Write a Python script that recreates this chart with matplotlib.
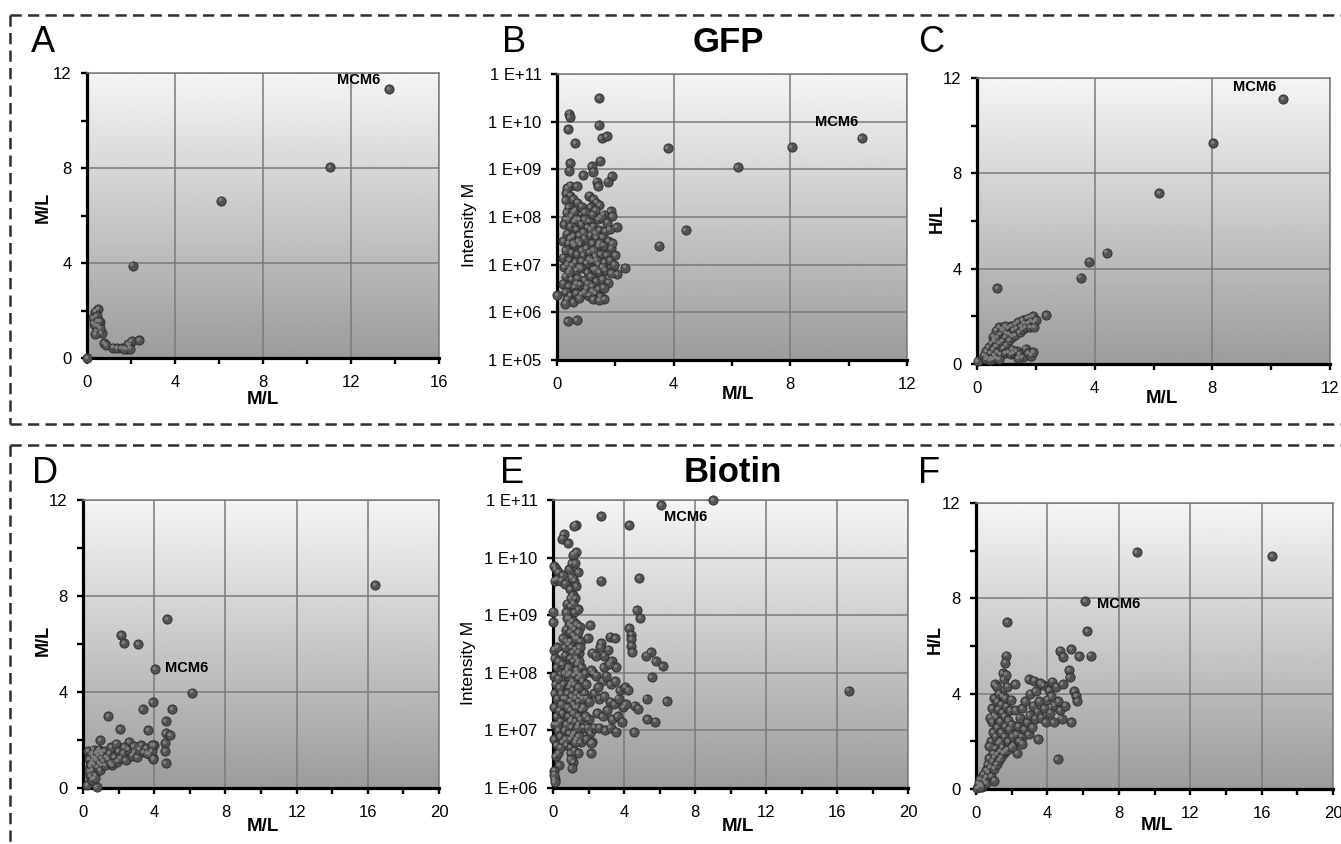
import numpy as np
import matplotlib
matplotlib.use('Agg')
import matplotlib.pyplot as plt
from matplotlib.ticker import MultipleLocator, FixedLocator, FuncFormatter, NullLocator
from matplotlib.lines import Line2D
from matplotlib.transforms import ScaledTranslation

plt.rcParams['font.family'] = ['Liberation Sans', 'DejaVu Sans']

# ---- data ----
# A: GFP, M/L vs M/L
a_pts = [(0.0, 0.0), (0.51, 2.06), (0.36, 1.95), (0.29, 1.68), (0.44, 1.75), (0.59, 1.53),
         (0.36, 1.39), (0.51, 1.33), (0.44, 1.12), (0.67, 1.05), (0.36, 1.0), (0.59, 1.25),
         (0.30, 1.45), (0.48, 1.55), (0.77, 0.62), (0.86, 0.55), (1.2, 0.43), (1.38, 0.41),
         (1.57, 0.41), (1.8, 0.38), (1.92, 0.52), (2.03, 0.72), (1.88, 0.58), (2.38, 0.76),
         (1.7, 0.40), (1.95, 0.40), (2.07, 3.89), (6.09, 6.62), (11.06, 8.03), (13.74, 11.31)]

# B: GFP, M/L vs log10(Intensity M)
b_pts = [(1.45, 10.5), (0.42, 10.17), (0.43, 10.10), (0.38, 9.85), (1.43, 9.93), (1.53, 9.66),
         (1.70, 9.69), (0.62, 9.55), (3.79, 9.44), (8.05, 9.47), (10.45, 9.66), (6.19, 9.04),
         (1.47, 9.18), (0.45, 9.13), (0.41, 8.97), (0.9, 8.88), (1.19, 9.06), (1.25, 8.95),
         (1.87, 8.86), (1.74, 8.74), (1.36, 8.74), (1.42, 8.64), (0.45, 8.66), (0.67, 8.64),
         (0.31, 8.50), (4.41, 7.73), (3.5, 7.40), (2.34, 6.94), (2.05, 7.78), (0.0, 6.36),
         (0.37, 5.82), (0.67, 5.83), (1.84, 8.13), (2.07, 6.80),
         (0.35, 8.60), (0.45, 8.45), (0.30, 8.35), (0.55, 8.38), (0.70, 8.30), (0.40, 8.20),
         (0.62, 8.15), (0.85, 8.22), (1.10, 8.45), (1.25, 8.38), (1.35, 8.30), (1.15, 8.20),
         (1.45, 8.25), (1.30, 8.15), (1.60, 8.05), (1.90, 8.02), (1.20, 8.05), (0.95, 8.10),
         (0.50, 8.02), (0.75, 7.95), (0.30, 7.95), (1.40, 7.95), (1.10, 7.90),
         (0.25, 7.85), (0.45, 7.80), (0.65, 7.75), (0.85, 7.85), (1.05, 7.78), (1.25, 7.80),
         (1.45, 7.72), (1.65, 7.70), (1.80, 7.75), (0.35, 7.65), (0.55, 7.60), (0.75, 7.62),
         (0.95, 7.55), (1.15, 7.62), (1.35, 7.55), (1.55, 7.58), (1.75, 7.50), (0.20, 7.50),
         (0.40, 7.45), (0.60, 7.40), (0.80, 7.42), (1.00, 7.35), (1.20, 7.45), (1.40, 7.38),
         (1.60, 7.40), (1.85, 7.35), (0.30, 7.30), (0.50, 7.25), (0.70, 7.22), (0.90, 7.20),
         (1.10, 7.25), (1.30, 7.18), (1.50, 7.22), (1.70, 7.20), (0.22, 7.15), (0.42, 7.10),
         (0.62, 7.05), (0.82, 7.08), (1.02, 7.02), (1.22, 7.08), (1.42, 7.00), (1.62, 7.05),
         (1.82, 7.10), (1.95, 7.00), (0.25, 6.95), (0.45, 6.90), (0.65, 6.88), (0.85, 6.92),
         (1.05, 6.85), (1.25, 6.90), (1.45, 6.85), (1.65, 6.88), (1.85, 6.82), (0.30, 6.75),
         (0.50, 6.70), (0.70, 6.72), (0.95, 6.68), (1.15, 6.75), (1.35, 6.65), (1.55, 6.70),
         (1.75, 6.62), (0.22, 6.60), (0.40, 6.55), (0.60, 6.52), (0.80, 6.58), (1.00, 6.50),
         (1.20, 6.55), (1.40, 6.48), (1.60, 6.52), (0.30, 6.42), (0.45, 6.35), (0.65, 6.40),
         (0.85, 6.38), (1.10, 6.35), (1.30, 6.40), (1.50, 6.33), (1.62, 6.28), (0.35, 6.28),
         (0.55, 6.22), (0.75, 6.30), (1.25, 6.28), (1.45, 6.25), (0.95, 6.42), (0.28, 6.18),
         (0.38, 7.95), (0.33, 8.10), (1.50, 8.00), (1.72, 7.88), (0.58, 7.90), (0.90, 7.68),
         (1.30, 7.65), (0.52, 6.98), (1.10, 7.12), (1.55, 6.95), (0.72, 7.50), (1.25, 7.30),
         (0.35, 7.00), (1.90, 7.45), (2.0, 7.20),
         (0.55, 8.10), (0.65, 7.95), (0.95, 7.95), (1.15, 7.75), (0.45, 7.55), (0.85, 7.30),
         (1.35, 7.10), (0.65, 6.60), (1.30, 6.90), (1.05, 6.60), (0.55, 7.45), (1.45, 7.45),
         (0.75, 6.95), (1.20, 6.45), (0.40, 6.85)]

# C: GFP, M/L vs H/L
c_pts = [(10.41, 11.11), (8.03, 9.26), (6.19, 7.16), (4.41, 4.67), (3.82, 4.29), (3.52, 3.62),
         (0.69, 3.18), (2.35, 2.06), (0.02, 0.13),
         (0.30, 0.55), (0.35, 0.30), (0.40, 0.70), (0.45, 0.45), (0.50, 0.85), (0.50, 0.25),
         (0.55, 0.60), (0.60, 0.95), (0.60, 0.35), (0.65, 0.75), (0.70, 1.10), (0.70, 0.50),
         (0.75, 0.85), (0.80, 1.25), (0.80, 0.40), (0.85, 0.95), (0.90, 1.40), (0.90, 0.65),
         (0.95, 1.10), (1.00, 0.80), (1.00, 1.30), (1.05, 1.50), (1.10, 1.00), (1.10, 1.25),
         (1.15, 1.60), (1.20, 1.15), (1.25, 1.40), (1.30, 1.65), (1.30, 1.20), (1.35, 1.50),
         (1.40, 1.75), (1.45, 1.35), (1.50, 1.60), (1.55, 1.85), (1.55, 1.45), (1.60, 1.70),
         (1.65, 1.55), (1.70, 1.90), (1.75, 1.70), (1.80, 1.95), (1.80, 1.55), (1.85, 1.80),
         (1.90, 2.00), (1.95, 1.75), (2.00, 1.85), (1.95, 1.55),
         (0.25, 0.35), (0.30, 0.20), (0.45, 0.15), (0.55, 0.20), (0.65, 0.25), (0.75, 0.20),
         (0.95, 0.45), (1.05, 0.50), (1.15, 0.40), (1.25, 0.45), (1.35, 0.55), (1.45, 0.40),
         (1.55, 0.30), (1.65, 0.65), (1.75, 0.45), (1.85, 0.35), (1.90, 0.50), (1.20, 0.60),
         (1.40, 0.25), (0.55, 1.15), (0.65, 1.40), (0.75, 1.55), (0.85, 1.45), (0.95, 1.60),
         (0.60, 1.05)]

# D: Biotin, M/L vs M/L
d_pts = [(16.4, 8.44), (4.74, 7.05), (2.15, 6.37), (2.30, 6.05), (3.11, 5.99), (4.04, 4.96),
         (6.12, 3.97), (3.92, 3.57), (3.35, 3.29), (5.02, 3.28), (1.42, 3.0), (2.08, 2.44),
         (3.67, 2.40), (4.64, 2.79), (4.65, 2.3), (4.9, 2.2), (4.61, 1.86), (4.6, 1.53),
         (4.64, 1.03), (3.95, 1.24), (3.99, 1.8), (0.24, 0.13), (0.77, 0.03),
         (0.30, 1.55), (0.35, 1.20), (0.40, 0.90), (0.45, 1.40), (0.50, 1.10), (0.55, 0.75),
         (0.60, 1.60), (0.60, 1.30), (0.65, 1.00), (0.70, 0.55), (0.75, 1.45), (0.75, 1.15),
         (0.80, 0.85), (0.85, 1.35), (0.90, 1.60), (0.90, 1.05), (0.95, 0.75), (1.00, 1.25),
         (1.00, 1.50), (1.05, 0.95), (1.10, 1.40), (1.15, 1.10), (1.20, 1.55), (1.25, 0.95),
         (1.30, 1.30), (0.40, 0.50), (0.50, 0.35), (0.35, 0.70), (0.55, 1.45), (0.70, 1.25),
         (0.85, 1.55), (0.95, 2.00), (0.45, 1.00), (0.65, 0.40),
         (1.40, 1.20), (1.50, 1.45), (1.60, 1.70), (1.65, 0.95), (1.75, 1.30), (1.85, 1.85),
         (1.90, 1.10), (2.00, 1.55), (2.10, 1.25), (2.25, 1.45), (2.40, 1.15), (2.55, 1.60),
         (2.60, 1.90), (2.75, 1.35), (2.90, 1.50), (3.05, 1.30), (3.15, 1.60), (3.25, 1.80),
         (3.40, 1.50), (3.55, 1.65), (3.70, 1.40), (3.85, 1.55), (3.90, 1.80), (3.95, 1.20),
         (1.55, 1.05), (2.30, 1.70), (2.85, 1.75), (3.60, 1.45)]

# E: Biotin, M/L vs log10(Intensity M)
e_pts = [(9.03, 11.0), (6.08, 10.91), (2.70, 10.72), (4.30, 10.56), (1.28, 10.57), (1.2, 10.55),
         (0.6, 10.41), (0.5, 10.33), (1.3, 10.10), (2.70, 9.60), (4.85, 9.64), (4.71, 9.09),
         (4.90, 8.95), (2.08, 8.83), (4.28, 8.78), (4.4, 8.66), (4.4, 8.58), (4.4, 8.47),
         (4.45, 8.36), (3.21, 8.63), (3.5, 8.60), (2.7, 8.52), (5.5, 8.36), (5.25, 8.30),
         (5.78, 8.20), (6.18, 8.12), (5.56, 7.92), (16.66, 7.69), (6.40, 7.51), (5.27, 7.55),
         (5.31, 7.20), (5.76, 7.15), (4.58, 6.97), (4.6, 7.43), (4.8, 7.38), (0.02, 9.06),
         (0.02, 8.88),
         (0.05, 9.85), (0.15, 9.80), (0.30, 9.75), (0.10, 9.60), (0.25, 9.62), (0.45, 9.60),
         (0.55, 9.70), (0.90, 9.80), (0.70, 9.55), (1.05, 9.90), (1.15, 10.05), (0.85, 10.25),
         (1.25, 9.90), (0.05, 8.40), (0.10, 8.25), (0.20, 8.10), (0.05, 7.95), (0.15, 7.80),
         (0.30, 7.90), (0.10, 7.65), (0.25, 7.55), (0.05, 7.40), (0.20, 7.25), (0.35, 7.35),
         (0.10, 7.10), (0.30, 7.00), (0.05, 6.85), (0.20, 6.75), (0.40, 6.90), (0.15, 6.55),
         (0.35, 6.40), (0.05, 6.30), (0.10, 6.15), (0.30, 6.60),
         (0.95, 9.45), (1.10, 9.35), (1.25, 9.30), (0.80, 9.20), (1.00, 9.15), (1.20, 9.05),
         (1.40, 9.10), (0.90, 8.95), (1.10, 8.90), (1.30, 8.85), (1.50, 8.80), (0.75, 8.75),
         (0.95, 8.70), (1.15, 8.65), (1.35, 8.60), (1.55, 8.55), (0.85, 8.50), (1.05, 8.45),
         (1.25, 8.40), (1.45, 8.35), (0.70, 8.30), (0.95, 8.25), (1.15, 8.20), (1.35, 8.15),
         (1.60, 8.10), (0.80, 8.05), (1.00, 8.00), (1.20, 7.95), (1.40, 7.90), (1.65, 7.85),
         (0.60, 7.80), (0.90, 7.75), (1.10, 7.70), (1.30, 7.65), (1.50, 7.60), (1.75, 7.65),
         (0.70, 7.55), (0.95, 7.50), (1.15, 7.45), (1.35, 7.40), (1.60, 7.35), (0.55, 7.30),
         (0.85, 7.25), (1.05, 7.20), (1.25, 7.15), (1.45, 7.10), (1.70, 7.05), (0.65, 7.00),
         (0.90, 6.95), (1.10, 6.90), (1.30, 6.85), (1.55, 6.80), (0.75, 6.75), (1.00, 6.70),
         (1.20, 6.65), (1.40, 6.60), (1.15, 6.45), (1.05, 6.35), (0.50, 8.15), (0.45, 7.65),
         (0.40, 7.15), (0.55, 6.80), (1.80, 8.00), (1.90, 7.55), (2.00, 7.20), (2.10, 6.95),
         (2.20, 6.80), (2.15, 6.60), (2.30, 7.05), (1.85, 6.85),
         (1.00, 8.55), (1.20, 8.75), (0.85, 8.10), (1.30, 8.25), (1.10, 7.85), (0.95, 7.35),
         (1.25, 7.55), (1.40, 7.25), (1.05, 7.05), (1.35, 8.00), (0.65, 8.45), (1.50, 8.45),
         (0.80, 7.40), (1.20, 6.95),
         (0.90, 8.85), (1.05, 8.80), (1.25, 8.60), (1.40, 8.70), (0.75, 8.55), (1.10, 8.35),
         (1.30, 8.05), (1.45, 8.20), (0.85, 7.95), (1.00, 7.80), (1.20, 7.80), (1.40, 7.75),
         (1.55, 7.95), (0.80, 7.65), (1.05, 7.60), (1.25, 7.40), (1.45, 7.50), (1.65, 7.55),
         (0.95, 7.15), (1.15, 7.30), (1.35, 7.05), (1.55, 7.20), (0.75, 7.10), (1.00, 6.85),
         (1.25, 6.80), (1.45, 6.90), (0.70, 6.85), (0.60, 7.55), (0.65, 8.00), (0.55, 8.60),
         (0.80, 8.95), (1.15, 9.20), (1.00, 9.30), (0.75, 9.05), (1.30, 9.50), (1.20, 9.60),
         (1.40, 9.75), (1.05, 9.65), (0.30, 8.20), (0.25, 8.45), (0.35, 7.75), (0.45, 7.45),
         (0.25, 7.10), (0.40, 6.70), (1.70, 7.40), (1.80, 7.25), (1.95, 7.05), (2.05, 7.50),
         (1.85, 7.80), (2.25, 8.00),
         (1.95, 8.60), (2.20, 8.35), (2.40, 8.30), (2.15, 8.05), (2.65, 8.45), (2.90, 8.30),
         (3.10, 8.40), (2.85, 8.10), (3.30, 8.20), (3.55, 8.10), (2.45, 7.95), (2.75, 7.85),
         (3.00, 7.95), (3.25, 7.80), (3.50, 7.85), (3.75, 7.70), (4.05, 7.75), (4.25, 7.70),
         (2.30, 7.65), (2.60, 7.55), (2.90, 7.60), (3.20, 7.50), (3.45, 7.45), (3.70, 7.55),
         (3.95, 7.40), (2.50, 7.30), (2.80, 7.25), (3.05, 7.35), (3.35, 7.20), (3.65, 7.25),
         (3.90, 7.15), (2.60, 7.05), (2.95, 7.00), (3.25, 7.05), (3.55, 6.98), (4.10, 7.45),
         (3.15, 8.15), (2.55, 7.75), (1.0, 6.6), (1.0, 6.5), (2.16, 6.78), (0.05, 6.23),
         (0.10, 6.10)]

# F: Biotin, M/L vs H/L
f_pts = [(9.0, 9.93), (16.58, 9.78), (6.11, 7.89), (6.24, 6.63), (1.75, 7.01), (4.71, 5.80),
         (4.89, 5.55), (5.32, 5.86), (5.77, 5.58), (6.43, 5.59), (1.7, 5.6), (1.65, 5.3),
         (5.2, 5.0), (5.25, 4.7), (5.5, 4.1), (5.6, 3.9), (5.65, 3.7), (4.57, 1.25), (5.33, 2.8),
         (0.05, 0.05), (0.15, 0.25), (0.25, 0.40), (0.30, 0.20), (0.40, 0.60), (0.45, 0.35),
         (0.55, 0.80), (0.60, 0.50), (0.65, 1.05), (0.70, 0.70), (0.75, 1.30), (0.80, 0.90),
         (0.85, 0.55), (0.90, 1.15), (0.95, 1.50), (1.00, 0.85), (1.05, 1.35), (1.10, 1.70),
         (1.15, 1.05), (1.20, 1.45), (1.25, 1.90), (1.30, 1.20), (1.35, 1.60), (1.40, 1.35),
         (1.50, 1.75), (1.55, 1.50), (1.65, 1.60), (0.35, 0.10), (0.55, 0.25), (0.20, 0.10),
         (1.00, 0.35),
         (0.85, 2.00), (0.95, 2.40), (0.90, 2.80), (1.00, 3.10), (0.90, 3.40), (1.00, 3.80),
         (1.05, 4.40), (1.15, 4.30), (1.10, 2.20), (1.20, 2.60), (1.15, 3.00), (1.25, 3.35),
         (1.20, 3.70), (1.30, 4.00), (1.35, 2.00), (1.40, 2.40), (1.35, 2.85), (1.45, 3.20),
         (1.40, 3.55), (1.50, 3.90), (1.55, 4.60), (1.50, 4.85), (1.60, 2.20), (1.65, 2.65),
         (1.60, 3.05), (1.70, 3.45), (1.65, 3.80), (1.75, 4.30), (1.70, 4.80), (1.80, 2.00),
         (1.85, 2.50), (1.80, 2.90), (1.90, 3.30), (0.75, 1.80), (0.80, 3.00), (1.75, 1.65),
         (1.95, 3.75), (2.00, 2.70), (2.05, 2.20), (2.20, 4.40),
         (2.10, 1.85), (2.25, 2.30), (2.20, 3.30), (2.35, 2.65), (2.30, 1.50), (2.45, 3.00),
         (2.55, 2.20), (2.60, 3.40), (2.70, 2.50), (2.75, 3.70), (2.85, 2.80), (2.95, 2.30),
         (3.00, 3.10), (3.05, 4.00), (3.15, 2.60), (3.20, 3.50), (3.30, 2.95), (3.35, 4.10),
         (3.45, 3.25), (3.50, 2.10), (3.55, 3.70), (3.65, 3.00), (3.75, 4.35), (3.80, 3.40),
         (3.90, 2.80), (4.00, 3.75), (4.10, 4.15), (4.15, 3.20), (4.25, 4.50), (4.35, 2.80),
         (4.40, 3.50), (4.50, 4.30), (4.60, 3.70), (4.70, 3.30), (4.80, 2.95), (4.85, 4.40),
         (5.00, 3.50), (2.95, 4.60), (3.25, 4.55), (3.60, 4.45), (4.20, 3.90), (2.40, 2.00),
         (2.60, 1.90), (2.00, 1.75)]

# ---- figure ----
W, H = 1341, 844
fig = plt.figure(figsize=(W / 100, H / 100), dpi=100)


def rect(x0, y0, x1, y1):
    return [x0 / W, 1 - y1 / H, (x1 - x0) / W, (y1 - y0) / H]


grad = np.linspace(0.96, 0.61, 256).reshape(-1, 1)
hl_shift = ScaledTranslation(-1.3 / 100, 1.3 / 100, fig.dpi_scale_trans)


def panel(r, pts, xmax, ylabel, ylabel_bold, xl_pos, yl_pos, ylog=False, ylim=(0, 12)):
    bg = fig.add_axes(r, zorder=0)
    bg.imshow(grad, cmap='gray', vmin=0, vmax=1, extent=[0, 1, 0, 1], aspect='auto')
    bg.axis('off')
    ax = fig.add_axes(r, zorder=1)
    ax.set_facecolor('none')
    x = np.array([p[0] for p in pts])
    y = np.array([p[1] for p in pts])
    if ylog:
        ax.set_yscale('log')
        y = 10.0 ** y
    ax.set_xlim(0, xmax)
    ax.set_ylim(*ylim)
    ax.xaxis.set_major_locator(MultipleLocator(4))
    ax.xaxis.set_minor_locator(MultipleLocator(2))
    if ylog:
        lo, hi = int(np.log10(ylim[0])), int(np.log10(ylim[1]))
        ax.yaxis.set_major_locator(FixedLocator(10.0 ** np.arange(lo, hi + 1)))
        ax.yaxis.set_minor_locator(NullLocator())
        ax.yaxis.set_major_formatter(FuncFormatter(lambda v, _: '1 E+%02d' % round(np.log10(v))))
    else:
        ax.yaxis.set_major_locator(MultipleLocator(4))
        ax.yaxis.set_minor_locator(MultipleLocator(2))
    ax.set_axisbelow(True)
    ax.grid(True, which='major', color='#7a7a7a', lw=1.1)
    for s in ['left', 'bottom']:
        ax.spines[s].set_color('black')
        ax.spines[s].set_linewidth(2.3)
    for s in ['top', 'right']:
        ax.spines[s].set_color('#7a7a7a')
        ax.spines[s].set_linewidth(1.1)
    ax.tick_params(which='both', direction='out', length=4, width=1.7, color='black',
                   labelsize=12, top=False, right=False)
    ax.tick_params(axis='x', which='both', pad=8)
    ax.tick_params(axis='y', which='both', pad=7)
    ax.scatter(x, y, s=44, c='#525252', edgecolors='#2a2a2a', linewidths=0.6,
               zorder=3, clip_on=False)
    ax.scatter(x, y, s=7, c='#7e7e7e', linewidths=0, zorder=4, clip_on=False,
               transform=ax.transData + hl_shift)
    ax.set_xlabel('M/L', fontsize=13.5, fontweight='bold')
    ax.xaxis.set_label_coords(*xl_pos)
    ax.xaxis.label.set_va('center')
    ax.set_ylabel(ylabel, fontsize=13 if ylabel_bold else 12.5,
                  fontweight='bold' if ylabel_bold else 'normal')
    ax.yaxis.set_label_coords(*yl_pos)
    ax.yaxis.label.set_va('center')
    return ax


axA = panel(rect(87, 73, 439, 358), a_pts, 16, 'M/L', True, (0.5, -0.147), (-0.125, 0.53))
axB = panel(rect(557, 74, 907, 360), b_pts, 12, 'Intensity M', False, (0.517, -0.122),
            (-0.251, 0.472), ylog=True, ylim=(1e5, 1e11))
axC = panel(rect(977, 78, 1330, 364), c_pts, 12, 'H/L', True, (0.524, -0.119), (-0.113, 0.51))
axD = panel(rect(83, 500, 439, 788), d_pts, 20, 'M/L', True, (0.506, -0.135), (-0.112, 0.514))
axE = panel(rect(553, 500, 908, 788), e_pts, 20, 'Intensity M', False, (0.521, -0.135),
            (-0.237, 0.434), ylog=True, ylim=(1e6, 1e11))
axF = panel(rect(976, 503, 1333, 789), f_pts, 20, 'H/L', True, (0.507, -0.126), (-0.115, 0.521))

lab = dict(fontsize=10.5, fontweight='bold', va='center', zorder=5)
axA.text(12.36, 11.7, 'MCM6', ha='center', **lab)
axB.text(9.59, 10 ** 10.0, 'MCM6', ha='center', **lab)
axC.text(9.45, 11.61, 'MCM6', ha='center', **lab)
axD.text(4.6, 5.0, 'MCM6', ha='left', **lab)
axE.text(7.47, 10 ** 10.70, 'MCM6', ha='center', **lab)
axF.text(6.76, 7.76, 'MCM6', ha='left', **lab)

# panel letters and titles
for t, px, py in [('A', 43, 43), ('B', 514, 43), ('C', 931, 43),
                  ('D', 45, 473), ('E', 512, 473), ('F', 929, 473)]:
    fig.text(px / W, 1 - py / H, t, fontsize=26, ha='center', va='center')
fig.text(728 / W, 1 - 43 / H, 'GFP', fontsize=25, fontweight='bold', ha='center', va='center')
fig.text(733 / W, 1 - 472 / H, 'Biotin', fontsize=25, fontweight='bold', ha='center', va='center')

# dashed frames
dash = dict(color='#2e2e2e', lw=1.8, linestyle=(0, (4.5, 2.5)), transform=fig.transFigure)
for (x0, y0, x1, y1) in [(10, 15, W, 15), (10, 15, 10, 424), (10, 424, W, 424),
                         (10, 445, W, 445), (10, 445, 10, H)]:
    fig.add_artist(Line2D([x0 / W, x1 / W], [1 - y0 / H, 1 - y1 / H], **dash))

fig.savefig('out.png', dpi=100)
